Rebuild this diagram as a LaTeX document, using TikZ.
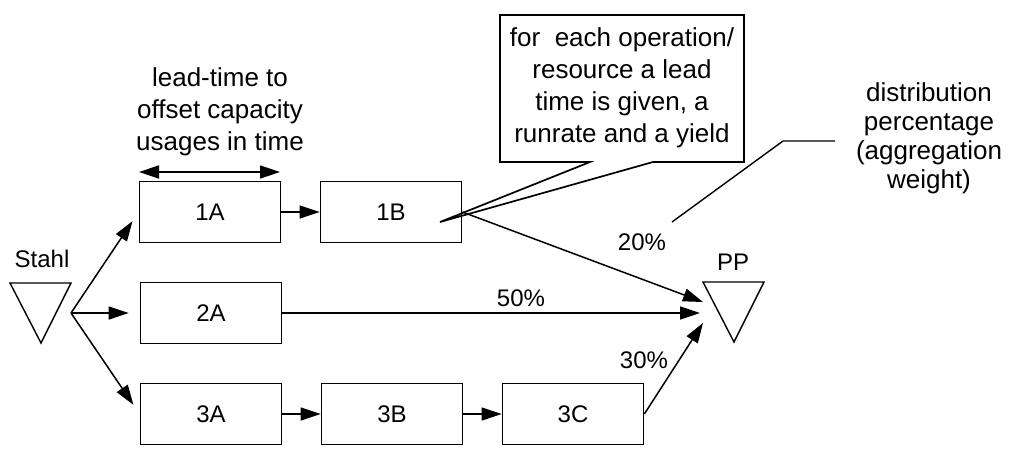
\documentclass[tikz,border=0pt]{standalone}
\usepackage{fontspec}
\setmainfont{Liberation Sans}
\usetikzlibrary{arrows.meta}
\begin{document}
\begin{tikzpicture}[x=1pt,y=-1pt,
  box/.style={draw,line width=1.7pt,minimum width=141pt,minimum height=61pt,inner sep=0pt,font=\fontsize{24}{29}\selectfont},
  lbl/.style={font=\fontsize{24}{29}\selectfont,inner sep=0pt,anchor=base},
  ann/.style={font=\fontsize{26}{32}\selectfont,align=center,inner sep=0pt},
  arr/.style={line width=1.5pt,-{Triangle[length=20pt,width=13pt]}},
  ln/.style={line width=1.4pt},
  tri/.style={line width=1.4pt}]
\useasboundingbox (0,0) rectangle (1009,456);
% process boxes
\node[box] (a1) at (210,212) {1A};
\node[box] (b1) at (391,212) {1B};
\node[box] (a2) at (211,313) {2A};
\node[box] (a3) at (211,414) {3A};
\node[box] (b3) at (392,414) {3B};
\node[box] (c3) at (573,414) {3C};
% triangles
\draw[tri] (10,283) -- (71,283) -- (41,343) -- cycle;
\draw[tri] (703,282) -- (764,282) -- (734,342) -- cycle;
\node[lbl] (stahl) at (42,267) {Stahl};
\node[lbl] (pp) at (733,270) {PP};
% branching and targets
\coordinate (br) at (71,313);
\coordinate (pp1) at (703,302);
\coordinate (pp2) at (700,313);
\coordinate (pp3) at (703,323);
\draw[arr,shorten >=11pt] (br) -- (a1.west);
\draw[arr,shorten >=11pt] (br) -- (a2.west);
\draw[arr,shorten >=11pt] (br) -- (a3.west);
\draw[arr] (a1.east) -- (b1.west);
\draw[arr] (a3.east) -- (b3.west);
\draw[arr] (b3.east) -- (c3.west);
\draw[arr] (b1.east) -- (pp1);
\draw[arr] (a2.east) -- (pp2);
\draw[arr] (c3.east) -- (pp3);
\node[lbl] (p20) at (642,250) {20\%};
\node[lbl] (p50) at (521,306) {50\%};
\node[lbl] (p30) at (644,368) {30\%};
% lead time annotation
\node[ann] (lead) at (220,112) {lead-time to\\offset capacity\\usages in time};
\coordinate (ll) at (139,172);
\coordinate (lr) at (280,172);
\draw[line width=1.5pt,{Triangle[length=20pt,width=13pt]}-{Triangle[length=20pt,width=13pt]}] (ll) -- (lr);
% callout
\coordinate (tip) at (440,222);
\draw[line width=1.7pt,line join=miter] (590,162) -- (500,162) -- (500,15) -- (744,15) -- (744,162) -- (653,162) -- (tip) -- cycle;
\node[ann] (call) at (622,88) {for\ \ each operation/\\resource a lead\\time is given, a\\runrate and a yield};
% distribution annotation
\node[ann,font=\fontsize{26}{29}\selectfont] (dist) at (929,138) {distribution\\percentage\\(aggregation\\weight)};
\coordinate (d1) at (835,141);
\coordinate (d2) at (783,141);
\coordinate (d3) at (672,222);
\draw[ln] (d1) -- (d2) -- (d3);
\end{tikzpicture}
\end{document}
